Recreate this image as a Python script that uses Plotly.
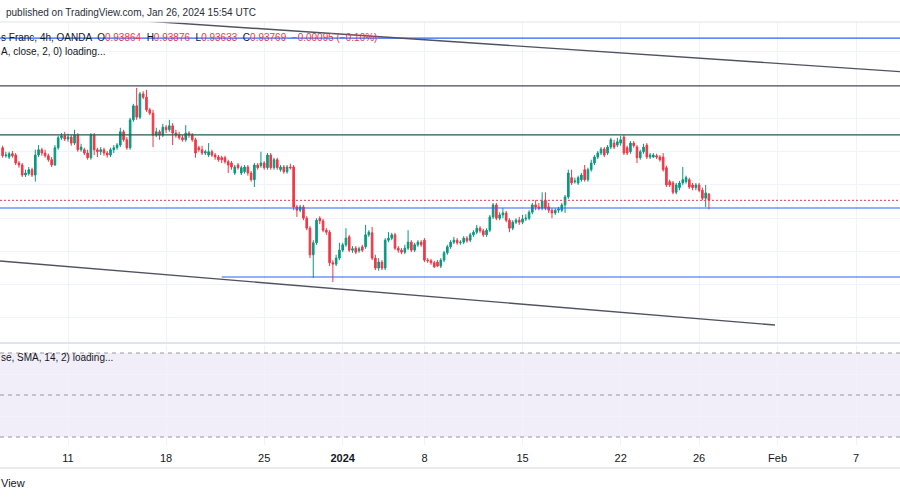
import plotly.graph_objects as go

# ---------------- data (EUR/CHF 4h, OANDA) ----------------
bar_index = list(range(217))
open_ = [0.9456,0.9444,0.9442,0.9447,0.9445,0.9433,0.9430,0.9415,0.9417,0.9423,
         0.9415,0.9445,0.9453,0.9448,0.9444,0.9438,0.9430,0.9456,0.9471,0.9474,
         0.9469,0.9472,0.9463,0.9475,0.9453,0.9453,0.9448,0.9441,0.9475,0.9453,
         0.9450,0.9453,0.9448,0.9445,0.9453,0.9456,0.9460,0.9480,0.9468,0.9456,
         0.9498,0.9519,0.9502,0.9537,0.9532,0.9513,0.9508,0.9475,0.9480,0.9475,
         0.9487,0.9483,0.9489,0.9478,0.9475,0.9471,0.9468,0.9478,0.9475,0.9468,
         0.9456,0.9453,0.9448,0.9445,0.9450,0.9445,0.9442,0.9441,0.9441,0.9435,
         0.9433,0.9418,0.9430,0.9418,0.9420,0.9427,0.9418,0.9408,0.9430,0.9429,
         0.9433,0.9426,0.9445,0.9426,0.9438,0.9423,0.9427,0.9420,0.9427,0.9427,
         0.9367,0.9362,0.9367,0.9350,0.9335,0.9295,0.9313,0.9350,0.9346,0.9332,
         0.9329,0.9283,0.9281,0.9290,0.9302,0.9310,0.9322,0.9302,0.9305,0.9301,
         0.9307,0.9307,0.9325,0.9328,0.9290,0.9275,0.9284,0.9275,0.9317,0.9320,
         0.9325,0.9305,0.9302,0.9299,0.9305,0.9314,0.9302,0.9310,0.9314,0.9317,
         0.9287,0.9286,0.9283,0.9284,0.9278,0.9287,0.9298,0.9307,0.9314,0.9317,
         0.9313,0.9314,0.9320,0.9317,0.9325,0.9329,0.9335,0.9331,0.9325,0.9332,
         0.9352,0.9370,0.9350,0.9355,0.9358,0.9347,0.9335,0.9344,0.9347,0.9344,
         0.9349,0.9350,0.9359,0.9370,0.9367,0.9365,0.9377,0.9367,0.9362,0.9358,
         0.9362,0.9362,0.9370,0.9382,0.9411,0.9405,0.9403,0.9408,0.9423,0.9408,
         0.9423,0.9433,0.9442,0.9448,0.9454,0.9448,0.9457,0.9463,0.9460,0.9463,
         0.9472,0.9456,0.9450,0.9463,0.9457,0.9441,0.9450,0.9460,0.9442,0.9442,
         0.9444,0.9442,0.9442,0.9426,0.9405,0.9403,0.9389,0.9396,0.9403,0.9405,
         0.9408,0.9400,0.9396,0.9400,0.9392,0.9380,0.93864]
high = [0.9459,0.9450,0.9450,0.9451,0.9448,0.9436,0.9433,0.9423,0.9427,0.9426,
        0.9453,0.9460,0.9456,0.9453,0.9447,0.9442,0.9460,0.9474,0.9478,0.9480,
        0.9477,0.9475,0.9483,0.9478,0.9462,0.9456,0.9453,0.9478,0.9478,0.9456,
        0.9457,0.9456,0.9451,0.9456,0.9460,0.9463,0.9486,0.9483,0.9472,0.9501,
        0.9522,0.9546,0.9540,0.9541,0.9543,0.9516,0.9513,0.9486,0.9483,0.9492,
        0.9490,0.9498,0.9493,0.9483,0.9480,0.9475,0.9490,0.9481,0.9478,0.9471,
        0.9459,0.9459,0.9453,0.9463,0.9453,0.9448,0.9445,0.9444,0.9444,0.9438,
        0.9436,0.9430,0.9433,0.9429,0.9430,0.9430,0.9421,0.9433,0.9433,0.9450,
        0.9436,0.9448,0.9448,0.9441,0.9441,0.9430,0.9430,0.9430,0.9432,0.9430,
        0.9370,0.9370,0.9370,0.9353,0.9338,0.9317,0.9350,0.9353,0.9349,0.9335,
        0.9332,0.9287,0.9295,0.9313,0.9313,0.9335,0.9325,0.9308,0.9308,0.9307,
        0.9310,0.9340,0.9332,0.9337,0.9295,0.9290,0.9287,0.9320,0.9329,0.9328,
        0.9328,0.9308,0.9305,0.9310,0.9332,0.9317,0.9313,0.9317,0.9317,0.9320,
        0.9290,0.9289,0.9286,0.9287,0.9290,0.9301,0.9310,0.9317,0.9322,0.9320,
        0.9317,0.9323,0.9323,0.9328,0.9332,0.9340,0.9338,0.9334,0.9335,0.9355,
        0.9373,0.9373,0.9359,0.9365,0.9361,0.9350,0.9347,0.9350,0.9352,0.9355,
        0.9356,0.9362,0.9373,0.9377,0.9373,0.9389,0.9389,0.9373,0.9365,0.9365,
        0.9367,0.9373,0.9385,0.9423,0.9423,0.9411,0.9414,0.9418,0.9430,0.9426,
        0.9438,0.9445,0.9451,0.9457,0.9457,0.9460,0.9471,0.9468,0.9471,0.9474,
        0.9475,0.9459,0.9466,0.9466,0.9460,0.9453,0.9462,0.9463,0.9448,0.9448,
        0.9447,0.9445,0.9448,0.9429,0.9408,0.9406,0.9403,0.9406,0.9427,0.9414,
        0.9411,0.9403,0.9403,0.9403,0.9396,0.9400,0.93876]
low = [0.9441,0.9441,0.9439,0.9441,0.9430,0.9426,0.9412,0.9412,0.9414,0.9412,
       0.9405,0.9442,0.9444,0.9441,0.9435,0.9427,0.9429,0.9453,0.9468,0.9466,
       0.9465,0.9459,0.9460,0.9450,0.9450,0.9445,0.9438,0.9438,0.9445,0.9442,
       0.9445,0.9444,0.9441,0.9442,0.9448,0.9453,0.9457,0.9465,0.9453,0.9453,
       0.9495,0.9498,0.9499,0.9529,0.9510,0.9505,0.9457,0.9472,0.9468,0.9472,
       0.9478,0.9480,0.9460,0.9471,0.9468,0.9465,0.9465,0.9471,0.9465,0.9441,
       0.9450,0.9445,0.9445,0.9442,0.9442,0.9438,0.9435,0.9433,0.9432,0.9418,
       0.9423,0.9415,0.9423,0.9415,0.9417,0.9414,0.9405,0.9397,0.9423,0.9426,
       0.9423,0.9423,0.9423,0.9423,0.9423,0.9420,0.9417,0.9417,0.9423,0.9362,
       0.9352,0.9359,0.9347,0.9332,0.9290,0.9260,0.9310,0.9341,0.9329,0.9325,
       0.9278,0.9254,0.9278,0.9287,0.9299,0.9307,0.9299,0.9298,0.9296,0.9298,
       0.9299,0.9304,0.9322,0.9287,0.9272,0.9271,0.9272,0.9272,0.9314,0.9317,
       0.9302,0.9298,0.9296,0.9296,0.9302,0.9299,0.9299,0.9307,0.9307,0.9284,
       0.9283,0.9280,0.9275,0.9277,0.9275,0.9284,0.9295,0.9304,0.9311,0.9310,
       0.9310,0.9311,0.9313,0.9314,0.9322,0.9326,0.9328,0.9322,0.9322,0.9329,
       0.9349,0.9347,0.9347,0.9350,0.9344,0.9329,0.9332,0.9341,0.9340,0.9341,
       0.9346,0.9347,0.9356,0.9362,0.9362,0.9362,0.9362,0.9358,0.9350,0.9355,
       0.9358,0.9359,0.9358,0.9379,0.9400,0.9402,0.9400,0.9405,0.9405,0.9405,
       0.9420,0.9430,0.9439,0.9445,0.9442,0.9445,0.9454,0.9454,0.9457,0.9459,
       0.9445,0.9445,0.9447,0.9456,0.9433,0.9438,0.9447,0.9439,0.9439,0.9441,
       0.9439,0.9435,0.9420,0.9397,0.9397,0.9386,0.9386,0.9392,0.9400,0.9402,
       0.9394,0.9392,0.9392,0.9389,0.9377,0.9367,0.93633]
close = [0.9444,0.9445,0.9447,0.9444,0.9433,0.9430,0.9415,0.9418,0.9423,0.9415,
         0.9445,0.9453,0.9448,0.9444,0.9438,0.9430,0.9456,0.9471,0.9474,0.9469,
         0.9472,0.9463,0.9475,0.9453,0.9457,0.9448,0.9441,0.9475,0.9453,0.9450,
         0.9453,0.9448,0.9445,0.9453,0.9456,0.9460,0.9480,0.9468,0.9456,0.9498,
         0.9519,0.9502,0.9537,0.9532,0.9513,0.9508,0.9475,0.9480,0.9475,0.9487,
         0.9483,0.9489,0.9478,0.9475,0.9471,0.9468,0.9478,0.9475,0.9468,0.9448,
         0.9453,0.9448,0.9450,0.9450,0.9445,0.9442,0.9438,0.9438,0.9435,0.9430,
         0.9427,0.9427,0.9426,0.9426,0.9427,0.9418,0.9408,0.9430,0.9426,0.9433,
         0.9426,0.9445,0.9426,0.9438,0.9426,0.9427,0.9420,0.9427,0.9426,0.9367,
         0.9362,0.9367,0.9350,0.9335,0.9295,0.9313,0.9347,0.9346,0.9332,0.9329,
         0.9283,0.9281,0.9290,0.9302,0.9310,0.9320,0.9302,0.9304,0.9299,0.9304,
         0.9302,0.9325,0.9329,0.9290,0.9275,0.9284,0.9275,0.9317,0.9320,0.9325,
         0.9305,0.9302,0.9299,0.9305,0.9314,0.9302,0.9310,0.9314,0.9310,0.9287,
         0.9286,0.9283,0.9277,0.9278,0.9287,0.9298,0.9307,0.9314,0.9317,0.9313,
         0.9314,0.9320,0.9316,0.9325,0.9329,0.9335,0.9331,0.9325,0.9332,0.9352,
         0.9370,0.9350,0.9355,0.9358,0.9347,0.9335,0.9344,0.9347,0.9344,0.9349,
         0.9350,0.9359,0.9370,0.9367,0.9365,0.9376,0.9365,0.9362,0.9358,0.9362,
         0.9364,0.9370,0.9382,0.9418,0.9403,0.9406,0.9411,0.9415,0.9408,0.9423,
         0.9433,0.9442,0.9448,0.9454,0.9445,0.9457,0.9468,0.9457,0.9465,0.9468,
         0.9448,0.9448,0.9463,0.9459,0.9441,0.9450,0.9457,0.9442,0.9445,0.9445,
         0.9442,0.9438,0.9423,0.9400,0.9400,0.9389,0.9400,0.9403,0.9408,0.9411,
         0.9397,0.9396,0.9400,0.9392,0.9380,0.9388,0.93769]

tick_index = [20, 50, 80, 104, 129, 159, 189, 213, 237, 261]
tick_text = ["11", "18", "25", "<b>2024</b>", "8", "15", "22", "26", "Feb", "7"]

level_blue = [0.96210, 0.93654]
level_dark = [0.95489, 0.94752]
support_level = 0.92616
support_start_index = 67
last_price = 0.93769
lower_trend = [(-0.8, 0.92857), (236.2, 0.91894)]
upper_trend = [(-0.8, 0.96612), (274.4, 0.95705)]
rsi_band = [30, 70]
rsi_mid = 50

# ---------------- figure ----------------
W, H = 900, 500
def py(p):
    return 1 - p / H

X_RANGE = [-0.795, 274.43]
Y_RANGE = [0.916383, 0.964511]

fig = go.Figure()
fig.add_trace(go.Candlestick(
    x=bar_index, open=open_, high=high, low=low, close=close,
    increasing=dict(line=dict(color="#089981", width=1), fillcolor="#089981"),
    decreasing=dict(line=dict(color="#F23645", width=1), fillcolor="#F23645"),
    whiskerwidth=0, showlegend=False, hoverinfo="skip", xaxis="x", yaxis="y"))
fig.add_trace(go.Scatter(x=[None], y=[None], xaxis="x2", yaxis="y2",
                         showlegend=False, hoverinfo="skip"))

grid = "#f0f3fa"
shapes = []
for lv in level_blue:
    shapes.append(dict(type="line", xref="paper", yref="y", x0=0, x1=1, y0=lv, y1=lv,
                       line=dict(color="#2962FF", width=1.2)))
for lv, col in zip(level_dark, ["#4a4d57", "#27594f"]):
    shapes.append(dict(type="line", xref="paper", yref="y", x0=0, x1=1, y0=lv, y1=lv,
                       line=dict(color=col, width=1.3)))
shapes.append(dict(type="line", xref="x", yref="y", x0=support_start_index, x1=X_RANGE[1],
                   y0=support_level, y1=support_level, line=dict(color="#2962FF", width=1.2)))
shapes.append(dict(type="line", xref="paper", yref="y", x0=0, x1=1, y0=last_price, y1=last_price,
                   line=dict(color="#F23645", width=1, dash="2px,2px")))
for tr in (lower_trend, upper_trend):
    shapes.append(dict(type="line", xref="x", yref="y", x0=tr[0][0], y0=tr[0][1],
                       x1=tr[1][0], y1=tr[1][1], line=dict(color="#50535e", width=1.4)))
shapes.append(dict(type="rect", xref="paper", yref="y2", x0=0, x1=1, y0=rsi_band[0], y1=rsi_band[1],
                   fillcolor="rgba(126,87,194,0.1)", line=dict(width=0), layer="below"))
for lv in [rsi_band[0], rsi_mid, rsi_band[1]]:
    shapes.append(dict(type="line", xref="paper", yref="y2", x0=0, x1=1, y0=lv, y1=lv,
                       line=dict(color="#9598a1", width=1, dash="4px,4px")))
for yy, wd in [(22, 1), (343, 2), (468, 1.5)]:
    shapes.append(dict(type="line", xref="paper", yref="paper", x0=0, x1=1, y0=py(yy), y1=py(yy),
                       line=dict(color="#e0e3eb", width=wd)))

font_family = "Liberation Sans, Arial, sans-serif"
red = "#F23645"
legend_text = ("s Franc, 4h, OANDA  O<span style='color:%s'>0.93864</span>  "
               "H<span style='color:%s'>0.93876</span>  L<span style='color:%s'>0.93633</span>  "
               "C<span style='color:%s'>0.93769</span>  <span style='color:%s'>\u22120.00095 (\u22120.10%%)</span>"
               % (red, red, red, red, red))
annotations = [
    dict(text="published on TradingView.com, Jan 26, 2024 15:54 UTC", x=4 / W, y=py(12),
         font=dict(size=10, color="#2a2e39")),
    dict(text=legend_text, x=-1 / W, y=py(38), font=dict(size=10, color="#131722")),
    dict(text="A, close, 2, 0) loading...", x=-1 / W, y=py(52), font=dict(size=10, color="#131722")),
    dict(text="se, SMA, 14, 2) loading...", x=-1 / W, y=py(357), font=dict(size=10, color="#131722")),
    dict(text="View", x=-1 / W, y=py(483), font=dict(size=11, color="#131722")),
]
for a in annotations:
    a.update(xref="paper", yref="paper", xanchor="left", yanchor="middle", showarrow=False)

fig.update_layout(
    width=W, height=H, margin=dict(l=0, r=0, t=0, b=0),
    paper_bgcolor="white", plot_bgcolor="white",
    font=dict(family=font_family, color="#131722"),
    showlegend=False, hovermode=False,
    xaxis=dict(domain=[0, 1], anchor="y", range=X_RANGE, tickvals=tick_index,
               showticklabels=False, showgrid=True, gridcolor=grid, zeroline=False,
               rangeslider=dict(visible=False), ticks="", showline=False),
    yaxis=dict(domain=[py(342), py(22)], anchor="x", range=Y_RANGE, tick0=0.9, dtick=0.005,
               showticklabels=False, showgrid=True, gridcolor=grid, zeroline=False, ticks=""),
    xaxis2=dict(domain=[0, 1], anchor="y2", range=X_RANGE, tickvals=tick_index, ticktext=tick_text,
                showticklabels=True, showgrid=True, gridcolor=grid, zeroline=False, ticks="",
                tickfont=dict(size=11, color="#131722"), ticklabelstandoff=5, showline=False),
    yaxis2=dict(domain=[py(445), py(345)], anchor="x2", range=[26.19, 73.81], tickvals=[40, 60],
                showticklabels=False, showgrid=True, gridcolor=grid, zeroline=False, ticks=""),
    shapes=shapes, annotations=annotations,
)

fig.write_html("out.html", config={"displayModeBar": False},
               post_script="document.body.style.margin='0';document.body.style.overflow='hidden';")
